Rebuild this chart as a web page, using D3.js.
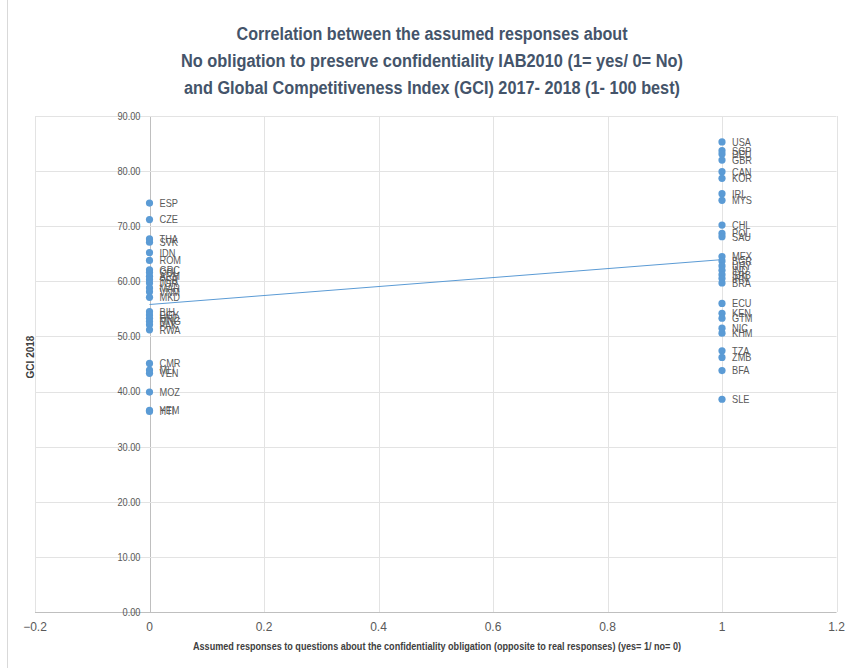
<!DOCTYPE html>
<html>
<head>
<meta charset="utf-8">
<script src="https://cdn.jsdelivr.net/npm/d3@7"></script>
<style>
  html, body { margin: 0; padding: 0; background: #fff; }
  svg { display: block; }
</style>
</head>
<body>
<svg id="chart" width="845" height="668"></svg>
<script>
// Countries answering "no" (0) and "yes" (1), with their GCI 2018 score
const groupNoLabels = ["ESP","CZE","THA","SVK","IDN","ROM","GRC","COL","ARM","PER","JOR","MAR","VNM","MKD",
  "BIH","EGY","HND","MNG","PAK","RWA","CMR","MLI","VEN","MOZ","YEM","HTI"];
const groupNoGci = [74.2,71.2,67.7,67.1,65.2,63.8,62.1,61.6,60.9,60.3,59.7,58.8,58.1,57.1,
  54.5,53.9,53.3,52.7,52.1,51.2,45.1,43.9,43.3,39.9,36.6,36.4];

const groupYesLabels = ["USA","SGP","DEU","GBR","CAN","KOR","IRL","MYS","CHL","POL","SAU","MEX","BGR","URY",
  "IND","SRB","IRN","BRA","ECU","KEN","GTM","NIC","KHM","TZA","ZMB","BFA","SLE"];
const groupYesGci = [85.3,83.7,83.1,82.0,79.9,78.7,75.9,74.7,70.2,68.7,68.1,64.5,63.7,62.8,
  62.0,61.2,60.5,59.7,56.0,54.2,53.3,51.5,50.6,47.4,46.2,43.8,38.6];

const xTicks = [-0.2, 0, 0.2, 0.4, 0.6, 0.8, 1, 1.2];
const yTicks = [0, 10, 20, 30, 40, 50, 60, 70, 80, 90];

const titleLines = [
  "Correlation  between  the  assumed  responses  about",
  "No  obligation  to  preserve  confidentiality  IAB2010  (1= yes/  0= No)",
  "and  Global  Competitiveness  Index  (GCI)  2017- 2018  (1- 100  best)"
];
const titleWidths = [391, 502, 496];
const xTitle = "Assumed responses to questions about the confidentiality obligation (opposite to real responses) (yes= 1/ no= 0)";
const yTitle = "GCI 2018";

const points = [
  ...groupNoLabels.map((c, i) => ({ code: c, x: 0, y: groupNoGci[i] })),
  ...groupYesLabels.map((c, i) => ({ code: c, x: 1, y: groupYesGci[i] }))
];

const svg = d3.select("#chart");
const font = "'Liberation Sans', Arial, sans-serif";
const narrow = 0.84; // horizontal squeeze for small labels

const x = d3.scaleLinear().domain([-0.2, 1.2]).range([35, 836.5]);
const y = d3.scaleLinear().domain([0, 90]).range([612, 116]);

// chart frame edge on the left
svg.append("line").attr("x1", 7.5).attr("x2", 7.5).attr("y1", 0).attr("y2", 668)
  .attr("stroke", "#d9d9d9");

// gridlines
svg.append("g").selectAll("line").data(xTicks).join("line")
  .attr("x1", d => Math.round(x(d)) + 0.5).attr("x2", d => Math.round(x(d)) + 0.5)
  .attr("y1", y(90)).attr("y2", y(0))
  .attr("stroke", d => d === 0 ? "#bfbfbf" : "#e3e3e3");
svg.append("g").selectAll("line").data(yTicks).join("line")
  .attr("x1", x(-0.2)).attr("x2", x(1.2))
  .attr("y1", d => Math.round(y(d)) + 0.5).attr("y2", d => Math.round(y(d)) + 0.5)
  .attr("stroke", d => d === 0 ? "#bfbfbf" : "#e3e3e3");

// y tick labels beside the axis at x = 0
svg.append("g").selectAll("text").data(yTicks).join("text")
  .attr("transform", d => `translate(${x(0) - 9},${y(d)}) scale(${narrow},1)`)
  .attr("dy", "0.35em")
  .attr("text-anchor", "end")
  .attr("font-family", font).attr("font-size", 11).attr("fill", "#595959")
  .text(d3.format(".2f"));

// x tick labels
svg.append("g").selectAll("text").data(xTicks).join("text")
  .attr("x", d => x(d)).attr("y", 631)
  .attr("text-anchor", "middle")
  .attr("font-family", font).attr("font-size", 12).attr("fill", "#595959")
  .text(d => d3.format("")(+d.toFixed(1)));

// linear trend (least squares)
const mx = d3.mean(points, d => d.x), my = d3.mean(points, d => d.y);
const slope = d3.sum(points, d => (d.x - mx) * (d.y - my)) / d3.sum(points, d => (d.x - mx) ** 2);
const icpt = my - slope * mx;
svg.append("line")
  .attr("x1", x(0)).attr("y1", y(icpt))
  .attr("x2", x(1)).attr("y2", y(icpt + slope))
  .attr("stroke", "#5b9bd5").attr("stroke-width", 1);

// points
svg.append("g").selectAll("circle").data(points).join("circle")
  .attr("cx", d => x(d.x)).attr("cy", d => y(d.y)).attr("r", 3.6)
  .attr("fill", "#5b9bd5");

// country labels
svg.append("g").selectAll("text").data(points).join("text")
  .attr("transform", d => `translate(${x(d.x) + 10},${y(d.y)}) scale(${narrow},1)`)
  .attr("dy", "0.35em")
  .attr("font-family", font).attr("font-size", 11).attr("fill", "#595959")
  .text(d => d.code);

// title
svg.append("g").selectAll("text").data(titleLines).join("text")
  .attr("x", 432).attr("y", (d, i) => 40 + i * 27)
  .attr("text-anchor", "middle")
  .attr("font-family", font).attr("font-weight", "bold").attr("font-size", 18)
  .attr("fill", "#44546a")
  .attr("textLength", (d, i) => titleWidths[i]).attr("lengthAdjust", "spacingAndGlyphs")
  .text(d => d);

// axis titles
svg.append("text")
  .attr("x", 437).attr("y", 650).attr("text-anchor", "middle")
  .attr("font-family", font).attr("font-weight", "bold").attr("font-size", 11)
  .attr("fill", "#404040")
  .attr("textLength", 488).attr("lengthAdjust", "spacingAndGlyphs")
  .text(xTitle);
svg.append("text")
  .attr("transform", `translate(34,357) rotate(-90)`).attr("text-anchor", "middle")
  .attr("font-family", font).attr("font-weight", "bold").attr("font-size", 10)
  .attr("fill", "#404040").text(yTitle);
</script>
</body>
</html>
